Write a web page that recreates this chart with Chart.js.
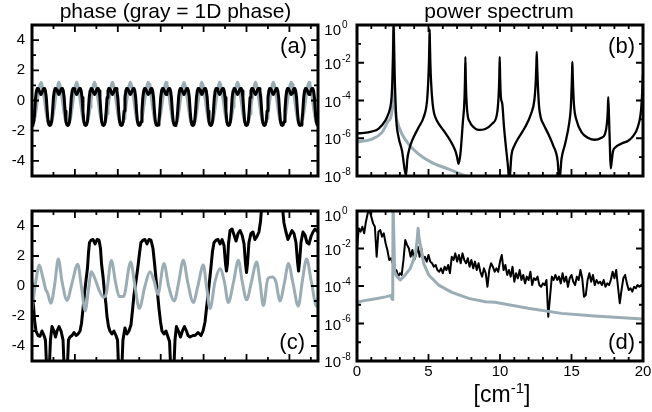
<!DOCTYPE html>
<html>
<head>
<meta charset="utf-8">
<script src="https://cdn.jsdelivr.net/npm/chart.js@4.4.0/dist/chart.umd.min.js"></script>
<style>
  html, body { margin: 0; padding: 0; background: #fff; }
  #wrap { position: relative; width: 652px; height: 412px; overflow: hidden;
          font-family: "Liberation Sans", Arial, Helvetica, sans-serif; color: #000; }
  #wrap canvas { position: absolute; left: 0; top: 0; }
  .txt { position: absolute; white-space: nowrap; line-height: 1; }
  .plab { font-size: 22px; }
  .sup { font-size: 15px; position: relative; top: -9px; }
</style>
</head>
<body>
<div id="wrap">
  <canvas id="chartA" width="652" height="412"></canvas>
  <canvas id="chartB" width="652" height="412"></canvas>
  <canvas id="chartC" width="652" height="412"></canvas>
  <canvas id="chartD" width="652" height="412"></canvas>
  <div class="txt" style="left:0;top:0;width:351px;text-align:center;font-size:21px;">phase (gray = 1D phase)</div>
  <div class="txt" style="left:400px;top:0;width:198px;text-align:center;font-size:21px;">power spectrum</div>
  <div class="txt plab" style="right:345px;top:35px;">(a)</div>
  <div class="txt plab" style="right:17px;top:35px;">(b)</div>
  <div class="txt plab" style="right:347px;top:331px;">(c)</div>
  <div class="txt plab" style="right:17px;top:331px;">(d)</div>
  <div class="txt" style="left:402px;top:383px;width:200px;text-align:center;font-size:23px;">[cm<span class="sup">-1</span>]</div>
</div>
<script>
// ---- panel (a): phase, sampled every 0.0625 on x = 0..20
var aStep = 0.0625;
var aPhaseBlack = [
  -1.65,-1.62,-1.4,-0.7,0.2,0.65,0.8,0.78,0.66,0.5,0.4,0.5,0.66,0.78,0.8,0.65,0.2,-0.7,-1.4,-1.62,
  -1.65,-1.62,-1.4,-0.7,0.2,0.65,0.8,0.78,0.66,0.5,0.4,0.5,0.66,0.78,0.8,0.65,0.2,-0.7,-1.4,-1.62,
  -1.65,-1.62,-1.4,-0.7,0.2,0.65,0.8,0.78,0.66,0.5,0.4,0.5,0.66,0.78,0.8,0.65,0.2,-0.7,-1.4,-1.62,
  -1.65,-1.62,-1.4,-0.7,0.2,0.65,0.8,0.78,0.66,0.5,0.4,0.5,0.66,0.78,0.8,0.65,0.2,-0.7,-1.4,-1.62,
  -1.65,-1.62,-1.4,-0.7,0.2,0.65,0.8,0.78,0.66,0.5,0.4,0.5,0.66,0.78,0.8,0.65,0.2,-0.7,-1.4,-1.62,
  -1.65,-1.62,-1.4,-0.7,0.2,0.65,0.8,0.78,0.66,0.5,0.4,0.5,0.66,0.78,0.8,0.65,0.2,-0.7,-1.4,-1.62,
  -1.65,-1.62,-1.4,-0.7,0.2,0.65,0.8,0.78,0.66,0.5,0.4,0.5,0.66,0.78,0.8,0.65,0.2,-0.7,-1.4,-1.62,
  -1.65,-1.62,-1.4,-0.7,0.2,0.65,0.8,0.78,0.66,0.5,0.4,0.5,0.66,0.78,0.8,0.65,0.2,-0.7,-1.4,-1.62,
  -1.65,-1.62,-1.4,-0.7,0.2,0.65,0.8,0.78,0.66,0.5,0.4,0.5,0.66,0.78,0.8,0.65,0.2,-0.7,-1.4,-1.62,
  -1.65,-1.62,-1.4,-0.7,0.2,0.65,0.8,0.78,0.66,0.5,0.4,0.5,0.66,0.78,0.8,0.65,0.2,-0.7,-1.4,-1.62,
  -1.65,-1.62,-1.4,-0.7,0.2,0.65,0.8,0.78,0.66,0.5,0.4,0.5,0.66,0.78,0.8,0.65,0.2,-0.7,-1.4,-1.62,
  -1.65,-1.62,-1.4,-0.7,0.2,0.65,0.8,0.78,0.66,0.5,0.4,0.5,0.66,0.78,0.8,0.65,0.2,-0.7,-1.4,-1.62,
  -1.65,-1.62,-1.4,-0.7,0.2,0.65,0.8,0.78,0.66,0.5,0.4,0.5,0.66,0.78,0.8,0.65,0.2,-0.7,-1.4,-1.62,
  -1.65,-1.62,-1.4,-0.7,0.2,0.65,0.8,0.78,0.66,0.5,0.4,0.5,0.66,0.78,0.8,0.65,0.2,-0.7,-1.4,-1.62,
  -1.65,-1.62,-1.4,-0.7,0.2,0.65,0.8,0.78,0.66,0.5,0.4,0.5,0.66,0.78,0.8,0.65,0.2,-0.7,-1.4,-1.62,
  -1.65,-1.62,-1.4,-0.7,0.2,0.65,0.8,0.78,0.66,0.5,0.4,0.5,0.66,0.78,0.8,0.65,0.2,-0.7,-1.4,-1.62,
  -1.65
];
var aPhaseGray = [
  -1.52,-1.5,-1.4,-1.2,-0.88,-0.45,0.0,0.42,0.8,1.07,1.2,1.07,0.8,0.42,0.0,-0.45,-0.88,-1.2,-1.4,-1.5,
  -1.52,-1.5,-1.4,-1.2,-0.88,-0.45,0.0,0.42,0.8,1.07,1.2,1.07,0.8,0.42,0.0,-0.45,-0.88,-1.2,-1.4,-1.5,
  -1.52,-1.5,-1.4,-1.2,-0.88,-0.45,0.0,0.42,0.8,1.07,1.2,1.07,0.8,0.42,0.0,-0.45,-0.88,-1.2,-1.4,-1.5,
  -1.52,-1.5,-1.4,-1.2,-0.88,-0.45,0.0,0.42,0.8,1.07,1.2,1.07,0.8,0.42,0.0,-0.45,-0.88,-1.2,-1.4,-1.5,
  -1.52,-1.5,-1.4,-1.2,-0.88,-0.45,0.0,0.42,0.8,1.07,1.2,1.07,0.8,0.42,0.0,-0.45,-0.88,-1.2,-1.4,-1.5,
  -1.52,-1.5,-1.4,-1.2,-0.88,-0.45,0.0,0.42,0.8,1.07,1.2,1.07,0.8,0.42,0.0,-0.45,-0.88,-1.2,-1.4,-1.5,
  -1.52,-1.5,-1.4,-1.2,-0.88,-0.45,0.0,0.42,0.8,1.07,1.2,1.07,0.8,0.42,0.0,-0.45,-0.88,-1.2,-1.4,-1.5,
  -1.52,-1.5,-1.4,-1.2,-0.88,-0.45,0.0,0.42,0.8,1.07,1.2,1.07,0.8,0.42,0.0,-0.45,-0.88,-1.2,-1.4,-1.5,
  -1.52,-1.5,-1.4,-1.2,-0.88,-0.45,0.0,0.42,0.8,1.07,1.2,1.07,0.8,0.42,0.0,-0.45,-0.88,-1.2,-1.4,-1.5,
  -1.52,-1.5,-1.4,-1.2,-0.88,-0.45,0.0,0.42,0.8,1.07,1.2,1.07,0.8,0.42,0.0,-0.45,-0.88,-1.2,-1.4,-1.5,
  -1.52,-1.5,-1.4,-1.2,-0.88,-0.45,0.0,0.42,0.8,1.07,1.2,1.07,0.8,0.42,0.0,-0.45,-0.88,-1.2,-1.4,-1.5,
  -1.52,-1.5,-1.4,-1.2,-0.88,-0.45,0.0,0.42,0.8,1.07,1.2,1.07,0.8,0.42,0.0,-0.45,-0.88,-1.2,-1.4,-1.5,
  -1.52,-1.5,-1.4,-1.2,-0.88,-0.45,0.0,0.42,0.8,1.07,1.2,1.07,0.8,0.42,0.0,-0.45,-0.88,-1.2,-1.4,-1.5,
  -1.52,-1.5,-1.4,-1.2,-0.88,-0.45,0.0,0.42,0.8,1.07,1.2,1.07,0.8,0.42,0.0,-0.45,-0.88,-1.2,-1.4,-1.5,
  -1.52,-1.5,-1.4,-1.2,-0.88,-0.45,0.0,0.42,0.8,1.07,1.2,1.07,0.8,0.42,0.0,-0.45,-0.88,-1.2,-1.4,-1.5,
  -1.52,-1.5,-1.4,-1.2,-0.88,-0.45,0.0,0.42,0.8,1.07,1.2,1.07,0.8,0.42,0.0,-0.45,-0.88,-1.2,-1.4,-1.5,
  -1.52
];

// ---- panel (b): power spectrum, x in cm^-1, y as log10(power)
var bBlackX = [0,0.5,1.0,1.5,1.98,2.2,2.33,2.42,2.48,2.52,2.54,2.56,2.58,2.6,2.63,2.66,2.7,2.75,2.91,3.15,
  3.33,3.43,3.52,3.65,3.85,4.31,4.66,4.9,4.98,5.03,5.06,5.08,5.1,5.13,5.18,5.29,5.4,5.59,6.06,6.53,
  6.88,7.0,7.1,7.23,7.41,7.5,7.55,7.58,7.61,7.67,7.76,7.9,8.04,8.51,8.97,9.44,9.79,9.9,9.95,9.98,
  10.01,10.06,10.16,10.28,10.42,10.56,10.65,10.8,11.0,11.28,11.75,12.17,12.4,12.5,12.54,12.57,12.6,12.65,12.73,12.85,
  13.03,13.38,13.73,14.03,14.15,14.3,14.55,14.83,14.95,15.01,15.04,15.06,15.08,15.12,15.18,15.36,15.71,16.18,16.64,17.06,
  17.34,17.48,17.54,17.57,17.62,17.68,17.74,17.8,17.9,18.04,18.51,18.97,19.32,19.63,19.86,19.95,20];
var bBlackLog = [-5.74,-5.72,-5.65,-5.5,-5.07,-4.7,-4.36,-3.8,-2.8,-1.6,-0.7,0.05,-0.7,-1.5,-2.6,-3.3,-4.2,-5.07,-5.96,-6.67,
  -7.64,-7.95,-7.1,-6.6,-6.13,-5.42,-4.89,-4.0,-3.0,-2.0,-1.0,-0.23,-1.0,-2.0,-3.0,-4.18,-4.7,-5.07,-5.6,-6.13,
  -6.67,-7.0,-7.35,-6.84,-5.07,-4.2,-3.0,-1.69,-3.0,-4.2,-4.89,-5.15,-5.33,-5.56,-5.51,-5.24,-4.71,-3.8,-2.8,-1.69,
  -2.8,-3.8,-4.18,-5.4,-6.5,-7.5,-8.3,-6.9,-6.4,-6.0,-5.42,-4.71,-4.0,-3.0,-2.2,-1.42,-2.2,-3.2,-4.3,-4.9,
  -5.24,-5.78,-6.4,-7.2,-8.3,-7.1,-6.31,-5.24,-4.4,-3.3,-2.5,-1.96,-2.5,-3.4,-4.3,-5.07,-5.69,-5.99,-6.08,-5.99,
  -5.78,-5.2,-4.5,-3.82,-4.8,-6.3,-7.6,-7.3,-6.7,-6.5,-6.28,-6.13,-5.87,-5.42,-4.53,-3.5,-2.6];
var bGrayX = [0,1.05,1.75,2.21,2.45,2.52,2.56,2.6,2.7,2.8,3.15,3.61,4.31,5.24,6.41,7.57,8.5];
var bGrayLog = [-6.2,-6.04,-5.69,-5.07,-4.53,-3.0,0.0,-3.0,-4.6,-5.07,-5.78,-6.31,-6.84,-7.29,-7.64,-8.0,-8.3];

// ---- panel (c): phase
var cBlackX = [0,0.07,0.17,0.28,0.42,0.56,0.7,0.84,0.94,1.05,1.19,1.29,1.4,1.54,1.64,1.75,1.89,2.03,2.17,2.27,
  2.45,2.55,2.66,2.8,2.94,3.08,3.22,3.36,3.46,3.57,3.67,3.78,3.88,3.95,4.02,4.13,4.27,4.41,4.55,4.69,
  4.79,4.86,4.97,5.07,5.17,5.24,5.35,5.45,5.59,5.73,5.87,5.98,6.08,6.26,6.36,6.5,6.64,6.78,6.92,7.03,
  7.13,7.27,7.41,7.52,7.62,7.76,7.9,8.04,8.18,8.32,8.46,8.57,8.67,8.78,8.88,8.99,9.09,9.23,9.37,9.51,
  9.62,9.72,9.9,10.0,10.1,10.24,10.38,10.52,10.66,10.8,10.91,11.05,11.26,11.4,11.61,11.82,11.96,12.1,12.2,
  12.31,12.41,12.52,12.62,12.73,12.87,13.01,13.15,13.29,13.43,13.53,13.6,13.67,13.74,13.85,13.99,14.13,14.27,14.41,14.55,
  14.69,14.83,14.93,15.0,15.07,15.17,15.31,15.45,15.59,15.73,15.87,15.98,16.08,16.15,17.41,17.52,17.62,17.76,17.9,18.04,
  18.18,18.32,18.46,18.57,18.64,18.71,18.81,18.95,19.09,19.23,19.37,19.51,19.65,19.79,20];
var cBlackY = [0.2,-0.8,-2.2,-3.0,-3.3,-3.35,-3.0,-3.3,-3.6,-6,-6,-3.6,-2.7,-3.0,-3.4,-3.0,-2.7,-3.0,-3.6,-6,
  -6,-3.6,-3.4,-3.3,-3.1,-3.3,-3.2,-3.0,-2.5,-1.5,-0.5,0.4,1.2,2.2,2.9,3.05,3.1,2.8,3.1,3.05,
  2.5,1.5,0.6,-0.4,-1.2,-2.0,-2.7,-3.0,-3.2,-3.0,-3.3,-3.6,-6,-6,-3.6,-2.8,-3.2,-3.0,-2.6,-1.6,
  -0.6,0.3,1.3,2.2,2.9,3.05,3.1,2.8,3.1,3.05,2.5,1.5,0.5,-0.5,-1.5,-2.4,-3.0,-3.2,-3.0,-3.4,
  -3.7,-6,-6,-3.6,-2.7,-3.0,-3.4,-3.0,-2.7,-3.0,-3.3,-3.4,-3.3,-3.3,-3.1,-3.3,-3.0,-2.4,-1.5,
  -0.6,0.3,1.3,2.3,2.9,3.05,3.1,2.8,3.1,2.7,1.5,1.0,1.5,2.8,3.7,3.8,3.4,3.0,3.5,3.7,
  3.4,2.8,1.5,0.9,1.5,2.9,3.5,3.6,3.1,3.3,3.6,4.3,5.5,6.5,6.5,5.2,4.2,3.6,3.1,3.4,
  3.7,3.5,2.9,1.6,1.0,1.6,2.9,3.6,3.4,2.9,2.8,3.3,3.6,3.8,3.6];
var cGrayX = [0,0.25,0.51,0.75,0.95,1.1,1.32,1.6,1.84,2.1,2.45,2.8,3.2,3.45,3.72,3.95,4.15,4.4,4.7,5.0,
  5.2,5.55,5.85,6.1,6.4,6.9,7.2,7.5,7.9,8.25,8.55,8.8,9.23,9.55,9.95,10.25,10.58,10.9,11.28,11.6,
  11.98,12.2,12.45,12.8,13.15,13.45,13.73,14.1,14.43,14.7,15.01,15.35,15.71,15.95,16.18,16.5,16.8,17.05,17.34,17.65,
  17.93,18.25,18.62,18.9,19.2,19.55,19.9,20];
var cGrayY = [-1.6,0.2,1.4,0.6,-0.2,-0.5,-1.15,0.2,1.8,0.3,-0.95,0.2,1.45,0.0,-1.65,-0.2,0.95,0.5,-0.3,-0.75,
  -0.5,1.7,0.2,-0.7,-0.7,1.6,0.0,-1.5,0.0,0.95,0.3,-0.55,1.5,0.0,-1.0,0.2,1.72,0.2,-1.1,0.0,
  1.4,0.0,-1.5,0.3,1.15,0.3,-1.1,0.3,1.72,0.3,-0.92,0.3,1.6,0.2,-1.3,0.5,0.6,0.3,-1.0,0.2,
  1.5,0.2,-1.35,0.3,1.8,0.2,-1.35,-1.3];

// ---- panel (d): power spectrum, black sampled every 0.125 cm^-1
var dStep = 0.125;
var dBlackLog = [
  -2.0,-0.92,-1.1,-0.84,-1.19,-0.57,-0.12,0.02,
  -0.3,-0.66,-0.84,-2.44,-1.1,-1.01,-1.37,-1.19,
  -1.72,-2.08,-2.61,-2.52,-2.79,-3.24,-3.15,-3.5,
  -3.32,-3.41,-2.61,-1.55,-1.81,-1.99,-2.44,-2.08,
  -2.61,-2.35,-1.9,-2.44,-1.99,-2.61,-2.44,-2.7,
  -2.35,-2.7,-2.79,-2.97,-2.88,-3.15,-3.24,-3.06,
  -3.32,-2.97,-3.15,-2.88,-3.32,-2.44,-2.61,-2.26,
  -2.7,-2.35,-2.79,-2.26,-2.61,-2.79,-2.52,-2.97,
  -2.61,-3.06,-2.7,-3.15,-2.79,-3.24,-3.5,-3.06,
  -3.32,-4.04,-3.15,-2.79,-2.97,-3.24,-3.06,-3.24,
  -2.7,-2.35,-3.15,-2.88,-3.41,-3.15,-3.5,-2.97,
  -3.77,-3.32,-3.59,-3.15,-3.68,-3.41,-3.86,-3.5,
  -3.68,-3.24,-3.95,-3.59,-3.68,-3.5,-3.95,-4.04,
  -3.86,-3.95,-3.68,-5.64,-4.57,-3.5,-3.68,-3.41,
  -3.68,-3.5,-3.86,-3.32,-3.77,-3.5,-4.04,-3.59,
  -3.41,-3.77,-3.95,-3.5,-3.68,-3.15,-3.59,-4.57,
  -4.48,-3.68,-3.32,-3.77,-3.41,-3.95,-3.68,-3.86,
  -3.77,-3.95,-3.68,-4.04,-3.86,-3.95,-3.68,-3.24,
  -3.59,-3.15,-4.04,-4.92,-4.21,-3.59,-3.41,-3.86,
  -4.21,-4.12,-4.3,-4.04,-4.12,-3.95,-4.04,-3.95,
  -3.95
];
var dGrayX = [0,0.05,0.5,1.0,1.5,2.0,2.38,2.45,2.5,2.52,2.56,2.63,2.8,3.03,3.38,3.73,4.08,4.2,4.27,4.35,
  4.43,4.66,5.01,5.71,6.64,7.81,8.97,9.65,11.96,14.3,16.6,20];
var dGrayLog = [-6.0,-4.85,-4.78,-4.72,-4.65,-4.58,-4.5,-4.7,-4.72,0.5,0.5,-3.24,-3.5,-3.68,-3.4,-3.06,-2.35,-1.6,-0.92,-1.5,
  -1.81,-2.79,-3.41,-3.95,-4.34,-4.66,-4.84,-4.87,-5.19,-5.46,-5.6,-5.76];

// ---- axis ticks
var phaseTicks = [-4, -2, 0, 2, 4];
var phaseMinor = [-5, -3, -1, 1, 3, 5];
var phaseXMajor = [3, 6, 9, 12, 15, 18];
var phaseXMinor = [1.5, 4.5, 7.5, 10.5, 13.5, 16.5, 19.5];
var logTickExp = [0, -2, -4, -6, -8];
var logMinorExp = [-1, -3, -5, -7];
var specXTicks = [0, 5, 10, 15, 20];
var specXMinor = [1, 2, 3, 4, 6, 7, 8, 9, 11, 12, 13, 14, 16, 17, 18, 19];

var BLACK = '#000000';
var GRAY = '#9badb4';
var FONT = '"Liberation Sans", Arial, Helvetica, sans-serif';

function grid(step, n) {
  var out = [];
  for (var i = 0; i < n; i++) out.push(i * step);
  return out;
}

function pairs(xs, ys, isLog) {
  return xs.map(function(x, i) {
    return { x: x, y: isLog ? Math.pow(10, ys[i]) : ys[i] };
  });
}

function line(data, color, width, smooth) {
  return {
    data: data,
    borderColor: color,
    borderWidth: width,
    borderJoinStyle: 'round',
    borderCapStyle: 'round',
    fill: false,
    pointRadius: 0,
    tension: smooth ? 0.4 : 0,
    cubicInterpolationMode: smooth ? 'monotone' : 'default'
  };
}

// frame, inward ticks on all sides and tick labels
function frameTicks(cfg) {
  return {
    id: 'frameTicks',
    afterDatasetsDraw: function(chart) {
      var ctx = chart.ctx, a = chart.chartArea;
      var xs = chart.scales.x, ys = chart.scales.y;
      var yVal = function(v) { return cfg.log ? Math.pow(10, v) : v; };
      ctx.save();
      ctx.strokeStyle = BLACK;
      ctx.lineWidth = 1.8;
      ctx.beginPath();
      function xt(v, len) {
        var p = xs.getPixelForValue(v);
        ctx.moveTo(p, a.bottom); ctx.lineTo(p, a.bottom - len);
        ctx.moveTo(p, a.top); ctx.lineTo(p, a.top + len);
      }
      function yt(v, len) {
        var p = ys.getPixelForValue(yVal(v));
        ctx.moveTo(a.left, p); ctx.lineTo(a.left + len, p);
        ctx.moveTo(a.right, p); ctx.lineTo(a.right - len, p);
      }
      cfg.xMinor.forEach(function(v) { xt(v, 4); });
      cfg.xMajor.forEach(function(v) { xt(v, 7); });
      cfg.yMinor.forEach(function(v) { yt(v, 4); });
      cfg.yMajor.forEach(function(v) { yt(v, 7); });
      ctx.stroke();
      ctx.lineWidth = 3;
      ctx.strokeRect(a.left, a.top, a.right - a.left, a.bottom - a.top);

      ctx.fillStyle = BLACK;
      cfg.yMajor.forEach(function(v) {
        var p = ys.getPixelForValue(yVal(v));
        if (cfg.log) {
          var c = Math.max(p + 2, a.top + 6);
          ctx.textAlign = 'right';
          ctx.textBaseline = 'middle';
          ctx.font = '15px ' + FONT;
          ctx.fillText('10', a.left - 16, c);
          ctx.textAlign = 'left';
          ctx.font = '10px ' + FONT;
          ctx.fillText(String(v), a.left - 15, c - 6);
        } else {
          ctx.textAlign = 'right';
          ctx.textBaseline = 'middle';
          ctx.font = '15px ' + FONT;
          ctx.fillText(String(v), a.left - 7, p);
        }
      });
      if (cfg.xLabels) {
        ctx.textAlign = 'center';
        ctx.textBaseline = 'top';
        ctx.font = '15px ' + FONT;
        cfg.xMajor.forEach(function(v) {
          ctx.fillText(String(v), xs.getPixelForValue(v), a.bottom + 3);
        });
      }
      ctx.restore();
    }
  };
}

function makeChart(id, pad, yScale, datasets, ticks) {
  return new Chart(document.getElementById(id), {
    type: 'line',
    data: { datasets: datasets },
    options: {
      responsive: false,
      animation: false,
      events: [],
      layout: { padding: pad },
      plugins: { legend: { display: false }, tooltip: { enabled: false } },
      scales: {
        x: { type: 'linear', display: false, min: 0, max: 20 },
        y: yScale
      }
    },
    plugins: [frameTicks(ticks)]
  });
}

var phaseScale = { type: 'linear', display: false, min: -5, max: 5 };
var logScale = { type: 'logarithmic', display: false, min: 1e-8, max: 1 };
var phaseCfg = { log: false, xMajor: phaseXMajor, xMinor: phaseXMinor, yMajor: phaseTicks, yMinor: phaseMinor, xLabels: false };

makeChart('chartA', { left: 32, top: 25, right: 334, bottom: 236 }, phaseScale, [
  line(pairs(grid(aStep, aPhaseBlack.length), aPhaseBlack), BLACK, 3, false),
  line(pairs(grid(aStep, aPhaseGray.length), aPhaseGray), GRAY, 3, false)
], phaseCfg);

makeChart('chartB', { left: 357, top: 25, right: 9, bottom: 236 }, logScale, [
  line(pairs(bBlackX, bBlackLog, true), BLACK, 2.3, true),
  line(pairs(bGrayX, bGrayLog, true), GRAY, 3, true)
], { log: true, xMajor: specXTicks, xMinor: specXMinor, yMajor: logTickExp, yMinor: logMinorExp, xLabels: false });

makeChart('chartC', { left: 32, top: 211, right: 334, bottom: 51 }, phaseScale, [
  line(pairs(cGrayX, cGrayY), GRAY, 3, true),
  line(pairs(cBlackX, cBlackY), BLACK, 3, false)
], phaseCfg);

makeChart('chartD', { left: 357, top: 211, right: 9, bottom: 51 }, logScale, [
  line(pairs(dGrayX, dGrayLog, true), GRAY, 3, false),
  line(pairs(grid(dStep, dBlackLog.length), dBlackLog, true), BLACK, 2, false)
], { log: true, xMajor: specXTicks, xMinor: specXMinor, yMajor: logTickExp, yMinor: logMinorExp, xLabels: true });
</script>
</body>
</html>
